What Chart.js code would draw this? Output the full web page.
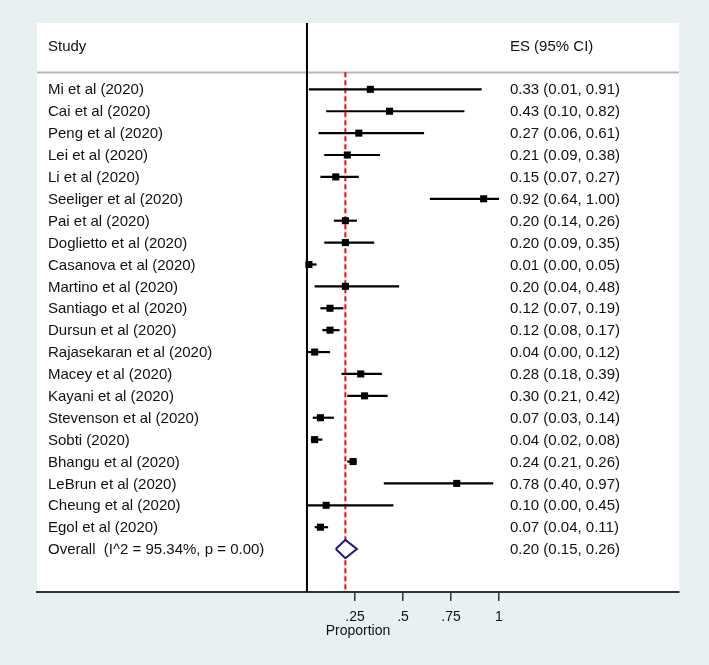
<!DOCTYPE html>
<html>
<head>
<meta charset="utf-8">
<script src="https://cdn.jsdelivr.net/npm/chart.js@4.4.0/dist/chart.umd.min.js"></script>
<style>
  body { margin: 0; background: #e8f0f2; }
  canvas { display: block; }
</style>
</head>
<body>
<canvas id="forest" width="709" height="665"></canvas>
<script>
// study data
const studies = [
    'Mi et al (2020)', 'Cai et al (2020)', 'Peng et al (2020)', 'Lei et al (2020)',
    'Li et al (2020)', 'Seeliger et al (2020)', 'Pai et al (2020)', 'Doglietto et al (2020)',
    'Casanova et al (2020)', 'Martino et al (2020)', 'Santiago et al (2020)', 'Dursun et al (2020)',
    'Rajasekaran et al (2020)', 'Macey et al (2020)', 'Kayani et al (2020)', 'Stevenson et al (2020)',
    'Sobti (2020)', 'Bhangu et al (2020)', 'LeBrun et al (2020)', 'Cheung et al (2020)',
    'Egol et al (2020)'
];
const es    = [0.33, 0.43, 0.27, 0.21, 0.15, 0.92, 0.20, 0.20, 0.01, 0.20, 0.12, 0.12, 0.04, 0.28, 0.30, 0.07, 0.04, 0.24, 0.78, 0.10, 0.07];
const lower = [0.01, 0.10, 0.06, 0.09, 0.07, 0.64, 0.14, 0.09, 0.00, 0.04, 0.07, 0.08, 0.00, 0.18, 0.21, 0.03, 0.02, 0.21, 0.40, 0.00, 0.04];
const upper = [0.91, 0.82, 0.61, 0.38, 0.27, 1.00, 0.26, 0.35, 0.05, 0.48, 0.19, 0.17, 0.12, 0.39, 0.42, 0.14, 0.08, 0.26, 0.97, 0.45, 0.11];

const overallLabel = 'Overall  (I^2 = 95.34%, p = 0.00)';
const overallES = 0.20;
const overallLower = 0.15;
const overallUpper = 0.26;

const xTicks = [0.25, 0.5, 0.75, 1];

const overallRow = studies.length;
const yTop = -3.03;
const yBottom = 22.96;
const headerRow = -1.97;
const headerLineRow = -0.78;

const FAMILY = '"Liberation Sans", Arial, sans-serif';
const FONT = '15px ' + FAMILY;

function fmt(v) {
    return v.toFixed(2);
}

const datasets = [];

// CI whiskers
studies.forEach(function(name, i) {
    datasets.push({
        data: [{ x: lower[i], y: i }, { x: upper[i], y: i }],
        showLine: true,
        borderColor: '#000',
        borderWidth: 2.2,
        pointRadius: 0,
        order: 2
    });
});

// point estimates
datasets.push({
    data: es.map(function(v, i) { return { x: v, y: i }; }),
    pointStyle: 'rect',
    pointRadius: 5,
    backgroundColor: '#000',
    borderColor: '#000',
    borderWidth: 0,
    order: 0
});

// overall diamond
const dh = 0.42;
datasets.push({
    data: [
        { x: overallLower, y: overallRow },
        { x: overallES, y: overallRow - dh },
        { x: overallUpper, y: overallRow },
        { x: overallES, y: overallRow + dh },
        { x: overallLower, y: overallRow }
    ],
    showLine: true,
    fill: 'shape',
    backgroundColor: '#fff',
    borderColor: '#1a1a80',
    borderWidth: 2,
    pointRadius: 0,
    tension: 0,
    order: 1
});

// overall effect reference line
datasets.push({
    data: [{ x: overallES, y: headerLineRow }, { x: overallES, y: yBottom }],
    showLine: true,
    borderColor: '#ff0000',
    borderWidth: 2,
    borderDash: [5, 3],
    pointRadius: 0,
    order: 3
});

// no-effect line at 0
datasets.push({
    data: [{ x: 0, y: yTop }, { x: 0, y: yBottom }],
    showLine: true,
    borderColor: '#000',
    borderWidth: 2,
    pointRadius: 0,
    order: 4
});

const forestText = {
    id: 'forestText',
    beforeDraw(chart) {
        const { ctx, chartArea } = chart;
        ctx.save();
        ctx.fillStyle = '#fff';
        ctx.fillRect(chartArea.left, chartArea.top, chartArea.right - chartArea.left, chartArea.bottom - chartArea.top);
        const y = chart.scales.y;
        const hy = Math.round(y.getPixelForValue(headerLineRow)) + 0.5;
        ctx.strokeStyle = '#b8b8b8';
        ctx.lineWidth = 2;
        ctx.beginPath();
        ctx.moveTo(chartArea.left, hy);
        ctx.lineTo(chartArea.right, hy);
        ctx.stroke();
        ctx.restore();
    },
    afterDraw(chart) {
        const { ctx, chartArea } = chart;
        const x = chart.scales.x;
        const y = chart.scales.y;
        const leftX = chartArea.left + 11;
        const esX = x.getPixelForValue(1.057);
        ctx.save();
        ctx.font = FONT;
        ctx.fillStyle = '#111';
        ctx.textBaseline = 'middle';
        ctx.textAlign = 'left';
        ctx.fillText('Study', leftX, y.getPixelForValue(headerRow) + 1);
        ctx.fillText('ES (95% CI)', esX, y.getPixelForValue(headerRow) + 1);
        studies.forEach(function(name, i) {
            const py = y.getPixelForValue(i) + 1;
            ctx.fillText(name, leftX, py);
            ctx.fillText(fmt(es[i]) + ' (' + fmt(lower[i]) + ', ' + fmt(upper[i]) + ')', esX, py);
        });
        const oy = y.getPixelForValue(overallRow) + 1;
        ctx.fillText(overallLabel, leftX, oy);
        ctx.fillText(fmt(overallES) + ' (' + fmt(overallLower) + ', ' + fmt(overallUpper) + ')', esX, oy);
        ctx.restore();
    }
};

const ctx = document.getElementById('forest').getContext('2d');
const chart = new Chart(ctx, {
    type: 'scatter',
    data: { datasets: datasets },
    options: {
        responsive: false,
        animation: false,
        layout: {
            padding: { left: 37, right: 30, top: 23, bottom: 0 }
        },
        plugins: {
            legend: { display: false },
            tooltip: { enabled: false }
        },
        scales: {
            x: {
                type: 'linear',
                min: -1.406,
                max: 1.9375,
                afterBuildTicks: function(scale) {
                    scale.ticks = xTicks.map(function(v) { return { value: v }; });
                },
                afterFit: function(scale) {
                    scale.height = 73;
                },
                ticks: {
                    color: '#111',
                    font: { family: FAMILY, size: 14 },
                    padding: 8,
                    autoSkip: false,
                    maxRotation: 0,
                    callback: function(v) { return String(v).replace(/^0\./, '.'); }
                },
                grid: {
                    drawOnChartArea: false,
                    drawTicks: true,
                    tickLength: 9,
                    color: '#333',
                    lineWidth: 1.5
                },
                border: { display: true, color: '#333', width: 2 },
                title: {
                    display: true,
                    text: 'Proportion',
                    color: '#111',
                    font: { family: FAMILY, size: 14 },
                    padding: { top: 0, bottom: 25 }
                }
            },
            y: {
                type: 'linear',
                display: false,
                reverse: true,
                min: yTop,
                max: yBottom
            }
        }
    },
    plugins: [forestText]
});
</script>
</body>
</html>
